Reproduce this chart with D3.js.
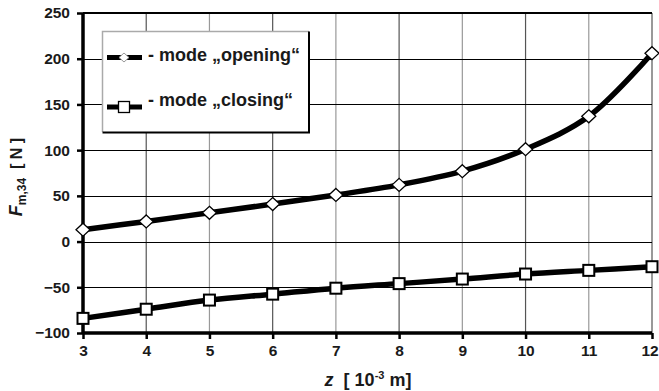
<!DOCTYPE html>
<html><head><meta charset="utf-8">
<script src="https://cdn.jsdelivr.net/npm/d3@7"></script>
<style>body{margin:0;background:#fff}svg{display:block;font-family:Arial,"Liberation Sans",sans-serif}</style>
</head><body><svg id="c" width="659" height="391"></svg>
<script>
const zValues = [3,4,5,6,7,8,9,10,11,12];
const opening = [13,22,31.5,41,51,62,77,101,137,206];
const closing = [-84,-74,-64,-57.5,-51,-46,-41,-35.5,-31.5,-27.5];
const yTicks = [-100,-50,0,50,100,150,200,250];
const seriesNames = ["- mode \u201Eopening\u201C","- mode \u201Eclosing\u201C"];

const svg = d3.select("#c");
const L=83,R=652,T=13,B=333;
const x = d3.scaleLinear().domain([3,12]).range([L,R]);
const y = d3.scaleLinear().domain([-100,250]).range([B,T]);

// gridlines
svg.append("g").selectAll("line").data(zValues.slice(1)).join("line")
  .attr("x1",d=>x(d)).attr("x2",d=>x(d)).attr("y1",T).attr("y2",B)
  .attr("stroke",(d,i)=>i%2?"#999":"#555").attr("stroke-width",1.2);
svg.append("g").selectAll("line").data(yTicks.slice(1,-1)).join("line")
  .attr("x1",L).attr("x2",R).attr("y1",d=>Math.round(y(d))+0.5).attr("y2",d=>Math.round(y(d))+0.5)
  .attr("stroke","#000").attr("stroke-width",1);
// top border
svg.append("line").attr("x1",L).attr("x2",R).attr("y1",T).attr("y2",T).attr("stroke","#000").attr("stroke-width",2);

// axes
const yAxis = d3.axisLeft(y).tickValues(yTicks).tickSize(6).tickPadding(7);
const gy = svg.append("g").attr("transform",`translate(${L},0)`).call(yAxis);
const xAxis = d3.axisBottom(x).tickValues(zValues).tickSize(6).tickPadding(6);
const gx = svg.append("g").attr("transform",`translate(0,${B})`).call(xAxis);
[gy,gx].forEach(g=>{
  g.select(".domain").attr("stroke","#000").attr("stroke-width",3.5);
  g.selectAll(".tick line").attr("stroke","#000").attr("stroke-width",2.5);
  g.selectAll(".tick text").attr("font-size",15.5).attr("font-weight","bold").attr("fill","#1a1a1a").attr("font-family","Arial,'Liberation Sans',sans-serif");
});
gx.selectAll(".tick text").filter(d=>d===12).attr("dx",-2.5);
gx.select(".domain").attr("d",`M${L},0H${R}`);
gy.select(".domain").attr("d",`M0,${B}V${T}`);

// lines
const line = d3.line().x((d,i)=>x(zValues[i])).y(d=>y(d)).curve(d3.curveCatmullRom.alpha(0.5));
[opening,closing].forEach(s=>{
  svg.append("path").attr("d",line(s)).attr("fill","none").attr("stroke","#000").attr("stroke-width",5.5);
});
const dw=7, dh=6.5;
const diamondPath = `M0,${-dh}L${dw},0L0,${dh}L${-dw},0Z`;
svg.append("g").selectAll("path").data(opening).join("path")
  .attr("d",diamondPath).attr("transform",(d,i)=>`translate(${x(zValues[i])},${y(d)})`)
  .attr("fill","#fff").attr("stroke","#000").attr("stroke-width",1.3);
const sq=11;
svg.append("g").selectAll("rect").data(closing).join("rect")
  .attr("x",(d,i)=>x(zValues[i])-sq/2).attr("y",d=>y(d)-sq/2).attr("width",sq).attr("height",sq)
  .attr("fill","#fff").attr("stroke","#000").attr("stroke-width",2);

// legend
const lg = svg.append("g");
lg.append("rect").attr("x",103).attr("y",32).attr("width",206).attr("height",100).attr("fill","#fff").attr("stroke","none");
lg.append("path").attr("d","M102.5,132 V31.5 H309").attr("fill","none").attr("stroke","#aaa").attr("stroke-width",1.5);
lg.append("path").attr("d","M309,31.5 V132.5 H102.5").attr("fill","none").attr("stroke","#000").attr("stroke-width",2);
const ly=[57.5,107];
const tb=[61,106];
ly.forEach((yy,i)=>{
  lg.append("line").attr("x1",107).attr("x2",142).attr("y1",yy).attr("y2",yy).attr("stroke","#000").attr("stroke-width",5);
  if(i===0){
    lg.append("path").attr("d",`M0,-4.5L5,0L0,4.5L-5,0Z`).attr("transform",`translate(124,${yy})`).attr("fill","#fff").attr("stroke","#999").attr("stroke-width",1);
  } else {
    lg.append("rect").attr("x",124-5.5).attr("y",yy-5.5).attr("width",11).attr("height",11).attr("fill","#fff").attr("stroke","#000").attr("stroke-width",1.3);
  }
  lg.append("text").attr("x",148).attr("y",tb[i]).attr("font-size",18).attr("font-weight","bold").attr("fill","#1a1a1a").text(seriesNames[i]);
});

// axis titles
const yt = svg.append("text").attr("transform","translate(22,177) rotate(-90)").attr("text-anchor","middle")
  .attr("font-size",16).attr("font-weight","bold").attr("fill","#1a1a1a");
yt.append("tspan").attr("font-style","italic").attr("font-size",18).text("F");
yt.append("tspan").attr("font-size",12).attr("dy",4).text("m,34");
yt.append("tspan").attr("dy",-4).attr("xml:space","preserve").text("  [ N ]");

const xt = svg.append("text").attr("x",368).attr("y",386).attr("text-anchor","middle")
  .attr("font-size",18).attr("font-weight","bold").attr("fill","#1a1a1a");
xt.append("tspan").attr("font-style","italic").text("z");
xt.append("tspan").attr("xml:space","preserve").text("  [ 10");
xt.append("tspan").attr("font-size",11).attr("dy",-7).text("-3");
xt.append("tspan").attr("dy",7).attr("xml:space","preserve").text(" m]");
</script></body></html>
